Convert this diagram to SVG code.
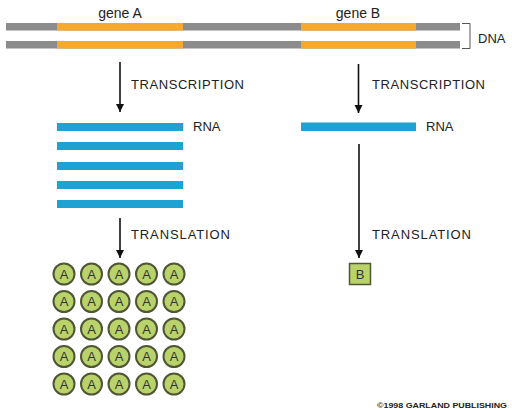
<svg xmlns="http://www.w3.org/2000/svg" width="512" height="410" viewBox="0 0 512 410">
<style>
.lbl{font-family:"Liberation Sans",Arial,sans-serif;font-size:13px;fill:#222}
.gl{font-family:"Liberation Sans",Arial,sans-serif;font-size:14px;fill:#222;text-anchor:middle}
.dna{fill:#8c8c8c}
.gene{fill:#f6a92c}
.rna{fill:#1ea2d3}
.prot{fill:#b9d36a;stroke:#4f5536;stroke-width:2}
.ptxt{font-family:"Liberation Sans",Arial,sans-serif;font-size:13px;fill:#333;text-anchor:middle}
.conn{stroke:#111;stroke-width:1.6;fill:none}
</style>
<defs>
<marker id="ah" viewBox="0 0 10 10" refX="10" refY="5" markerWidth="5" markerHeight="6" markerUnits="strokeWidth" orient="auto">
<path d="M0,0 L10,5 L0,10 z" fill="#111"/>
</marker>
</defs>
<rect width="512" height="410" fill="#fff"/>
<g id="dna">
<rect class="dna" x="6" y="23" width="454" height="7.5"/>
<rect class="dna" x="6" y="41" width="454" height="7.5"/>
<rect class="gene" x="57" y="23" width="126" height="7.5"/>
<rect class="gene" x="57" y="41" width="126" height="7.5"/>
<rect class="gene" x="301" y="23" width="115" height="7.5"/>
<rect class="gene" x="301" y="41" width="115" height="7.5"/>
<path d="M462,23.5 H470 V48.5 H462" fill="none" stroke="#555" stroke-width="1"/>
<text class="lbl" x="478" y="43">DNA</text>
<text class="gl" x="120" y="18">gene A</text>
<text class="gl" x="358" y="18">gene B</text>
</g>
<g id="rnaA">
<rect class="rna" x="57" y="123" width="126" height="8"/>
<rect class="rna" x="57" y="142" width="126" height="8"/>
<rect class="rna" x="57" y="162" width="126" height="8"/>
<rect class="rna" x="57" y="181" width="126" height="8"/>
<rect class="rna" x="57" y="200" width="126" height="8"/>
<text class="lbl" x="193" y="131">RNA</text>
</g>
<g id="rnaB">
<rect class="rna" x="301" y="122.5" width="115" height="8.5"/>
<text class="lbl" x="426" y="131">RNA</text>
</g>
<g id="proteinA">
<g>
<circle class="prot" cx="64" cy="274" r="10.5"/><circle class="prot" cx="91.5" cy="274" r="10.5"/><circle class="prot" cx="119" cy="274" r="10.5"/><circle class="prot" cx="146.5" cy="274" r="10.5"/><circle class="prot" cx="174" cy="274" r="10.5"/>
<circle class="prot" cx="64" cy="301.5" r="10.5"/><circle class="prot" cx="91.5" cy="301.5" r="10.5"/><circle class="prot" cx="119" cy="301.5" r="10.5"/><circle class="prot" cx="146.5" cy="301.5" r="10.5"/><circle class="prot" cx="174" cy="301.5" r="10.5"/>
<circle class="prot" cx="64" cy="329" r="10.5"/><circle class="prot" cx="91.5" cy="329" r="10.5"/><circle class="prot" cx="119" cy="329" r="10.5"/><circle class="prot" cx="146.5" cy="329" r="10.5"/><circle class="prot" cx="174" cy="329" r="10.5"/>
<circle class="prot" cx="64" cy="356.5" r="10.5"/><circle class="prot" cx="91.5" cy="356.5" r="10.5"/><circle class="prot" cx="119" cy="356.5" r="10.5"/><circle class="prot" cx="146.5" cy="356.5" r="10.5"/><circle class="prot" cx="174" cy="356.5" r="10.5"/>
<circle class="prot" cx="64" cy="384" r="10.5"/><circle class="prot" cx="91.5" cy="384" r="10.5"/><circle class="prot" cx="119" cy="384" r="10.5"/><circle class="prot" cx="146.5" cy="384" r="10.5"/><circle class="prot" cx="174" cy="384" r="10.5"/>
</g>
<g>
<text class="ptxt" x="64" y="278.5">A</text><text class="ptxt" x="91.5" y="278.5">A</text><text class="ptxt" x="119" y="278.5">A</text><text class="ptxt" x="146.5" y="278.5">A</text><text class="ptxt" x="174" y="278.5">A</text>
<text class="ptxt" x="64" y="306">A</text><text class="ptxt" x="91.5" y="306">A</text><text class="ptxt" x="119" y="306">A</text><text class="ptxt" x="146.5" y="306">A</text><text class="ptxt" x="174" y="306">A</text>
<text class="ptxt" x="64" y="333.5">A</text><text class="ptxt" x="91.5" y="333.5">A</text><text class="ptxt" x="119" y="333.5">A</text><text class="ptxt" x="146.5" y="333.5">A</text><text class="ptxt" x="174" y="333.5">A</text>
<text class="ptxt" x="64" y="361">A</text><text class="ptxt" x="91.5" y="361">A</text><text class="ptxt" x="119" y="361">A</text><text class="ptxt" x="146.5" y="361">A</text><text class="ptxt" x="174" y="361">A</text>
<text class="ptxt" x="64" y="388.5">A</text><text class="ptxt" x="91.5" y="388.5">A</text><text class="ptxt" x="119" y="388.5">A</text><text class="ptxt" x="146.5" y="388.5">A</text><text class="ptxt" x="174" y="388.5">A</text>
</g>
</g>
<g id="proteinB">
<rect x="349.5" y="263.5" width="21" height="21" fill="#b9d36a" stroke="#4f5536" stroke-width="1.5"/>
<text class="ptxt" x="360" y="278.5">B</text>
</g>
<g id="connectors">
<line class="conn" x1="120" y1="62" x2="120" y2="112" marker-end="url(#ah)"/>
<line class="conn" x1="358.5" y1="64" x2="358.5" y2="113" marker-end="url(#ah)"/>
<line class="conn" x1="120" y1="218" x2="120" y2="258" marker-end="url(#ah)"/>
<line class="conn" x1="359" y1="144" x2="359" y2="258" marker-end="url(#ah)"/>
<text class="lbl" x="131" y="89" textLength="113" lengthAdjust="spacing">TRANSCRIPTION</text>
<text class="lbl" x="372" y="89" textLength="113" lengthAdjust="spacing">TRANSCRIPTION</text>
<text class="lbl" x="131" y="239" textLength="99" lengthAdjust="spacing">TRANSLATION</text>
<text class="lbl" x="372" y="239" textLength="99" lengthAdjust="spacing">TRANSLATION</text>
</g>
<text x="377" y="407.5" font-family="Liberation Sans,Arial,sans-serif" font-size="8" font-weight="bold" fill="#222" textLength="130" lengthAdjust="spacingAndGlyphs">©1998 GARLAND PUBLISHING</text>
</svg>
